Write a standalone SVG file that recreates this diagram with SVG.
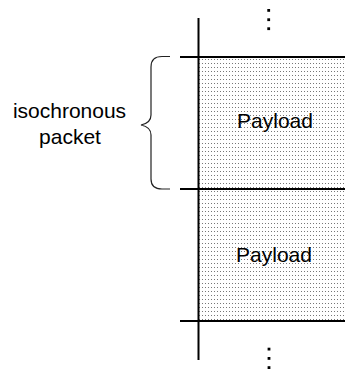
<svg xmlns="http://www.w3.org/2000/svg" width="345" height="369" viewBox="0 0 345 369">
<defs>
<pattern id="dots" x="199" y="58" width="3" height="4" patternUnits="userSpaceOnUse">
<rect x="0" y="1" width="1" height="1" fill="#777"/>
</pattern>
<style>
.lbl{font-family:"Liberation Sans",Arial,sans-serif;font-size:21px;fill:#000;text-anchor:middle}
.ln{stroke:#000;stroke-width:2;fill:none}
.br{stroke:#222;stroke-width:1.2;fill:none}
.dot{fill:#000}
</style>
</defs>
<rect width="345" height="369" fill="#fff"/>
<g id="payload1">
<rect x="199" y="57" width="146" height="132" fill="url(#dots)"/>
<text class="lbl" x="275" y="128">Payload</text>
</g>
<g id="payload2">
<rect x="199" y="189" width="146" height="132" fill="url(#dots)"/>
<text class="lbl" x="274" y="262">Payload</text>
</g>
<g id="label">
<path class="br" d="M170,56.5 L162,56.5 Q151,56.5 151,67 L151,115 Q151,123 141,125 Q151,127 151,135 L151,179 Q151,189 162,189 L170,189"/>
<text class="lbl" x="69.5" y="118">isochronous</text>
<text class="lbl" x="70" y="144">packet</text>
</g>
<g id="connectors">
<line class="ln" x1="198.5" y1="18" x2="198.5" y2="360"/>
<line class="ln" x1="180" y1="57" x2="345" y2="57"/>
<line class="ln" x1="180" y1="189" x2="345" y2="189"/>
<line class="ln" x1="180" y1="321" x2="345" y2="321"/>
</g>
<g id="ellipsis-top">
<rect class="dot" x="267.3" y="9" width="2.8" height="2.8"/>
<rect class="dot" x="267.3" y="18.3" width="2.8" height="2.8"/>
<rect class="dot" x="267.3" y="27.3" width="2.8" height="2.8"/>
</g>
<g id="ellipsis-bottom">
<rect class="dot" x="267.6" y="347.7" width="2.8" height="2.8"/>
<rect class="dot" x="267.6" y="357" width="2.8" height="2.8"/>
<rect class="dot" x="267.6" y="366.2" width="2.8" height="2.8"/>
</g>
</svg>
